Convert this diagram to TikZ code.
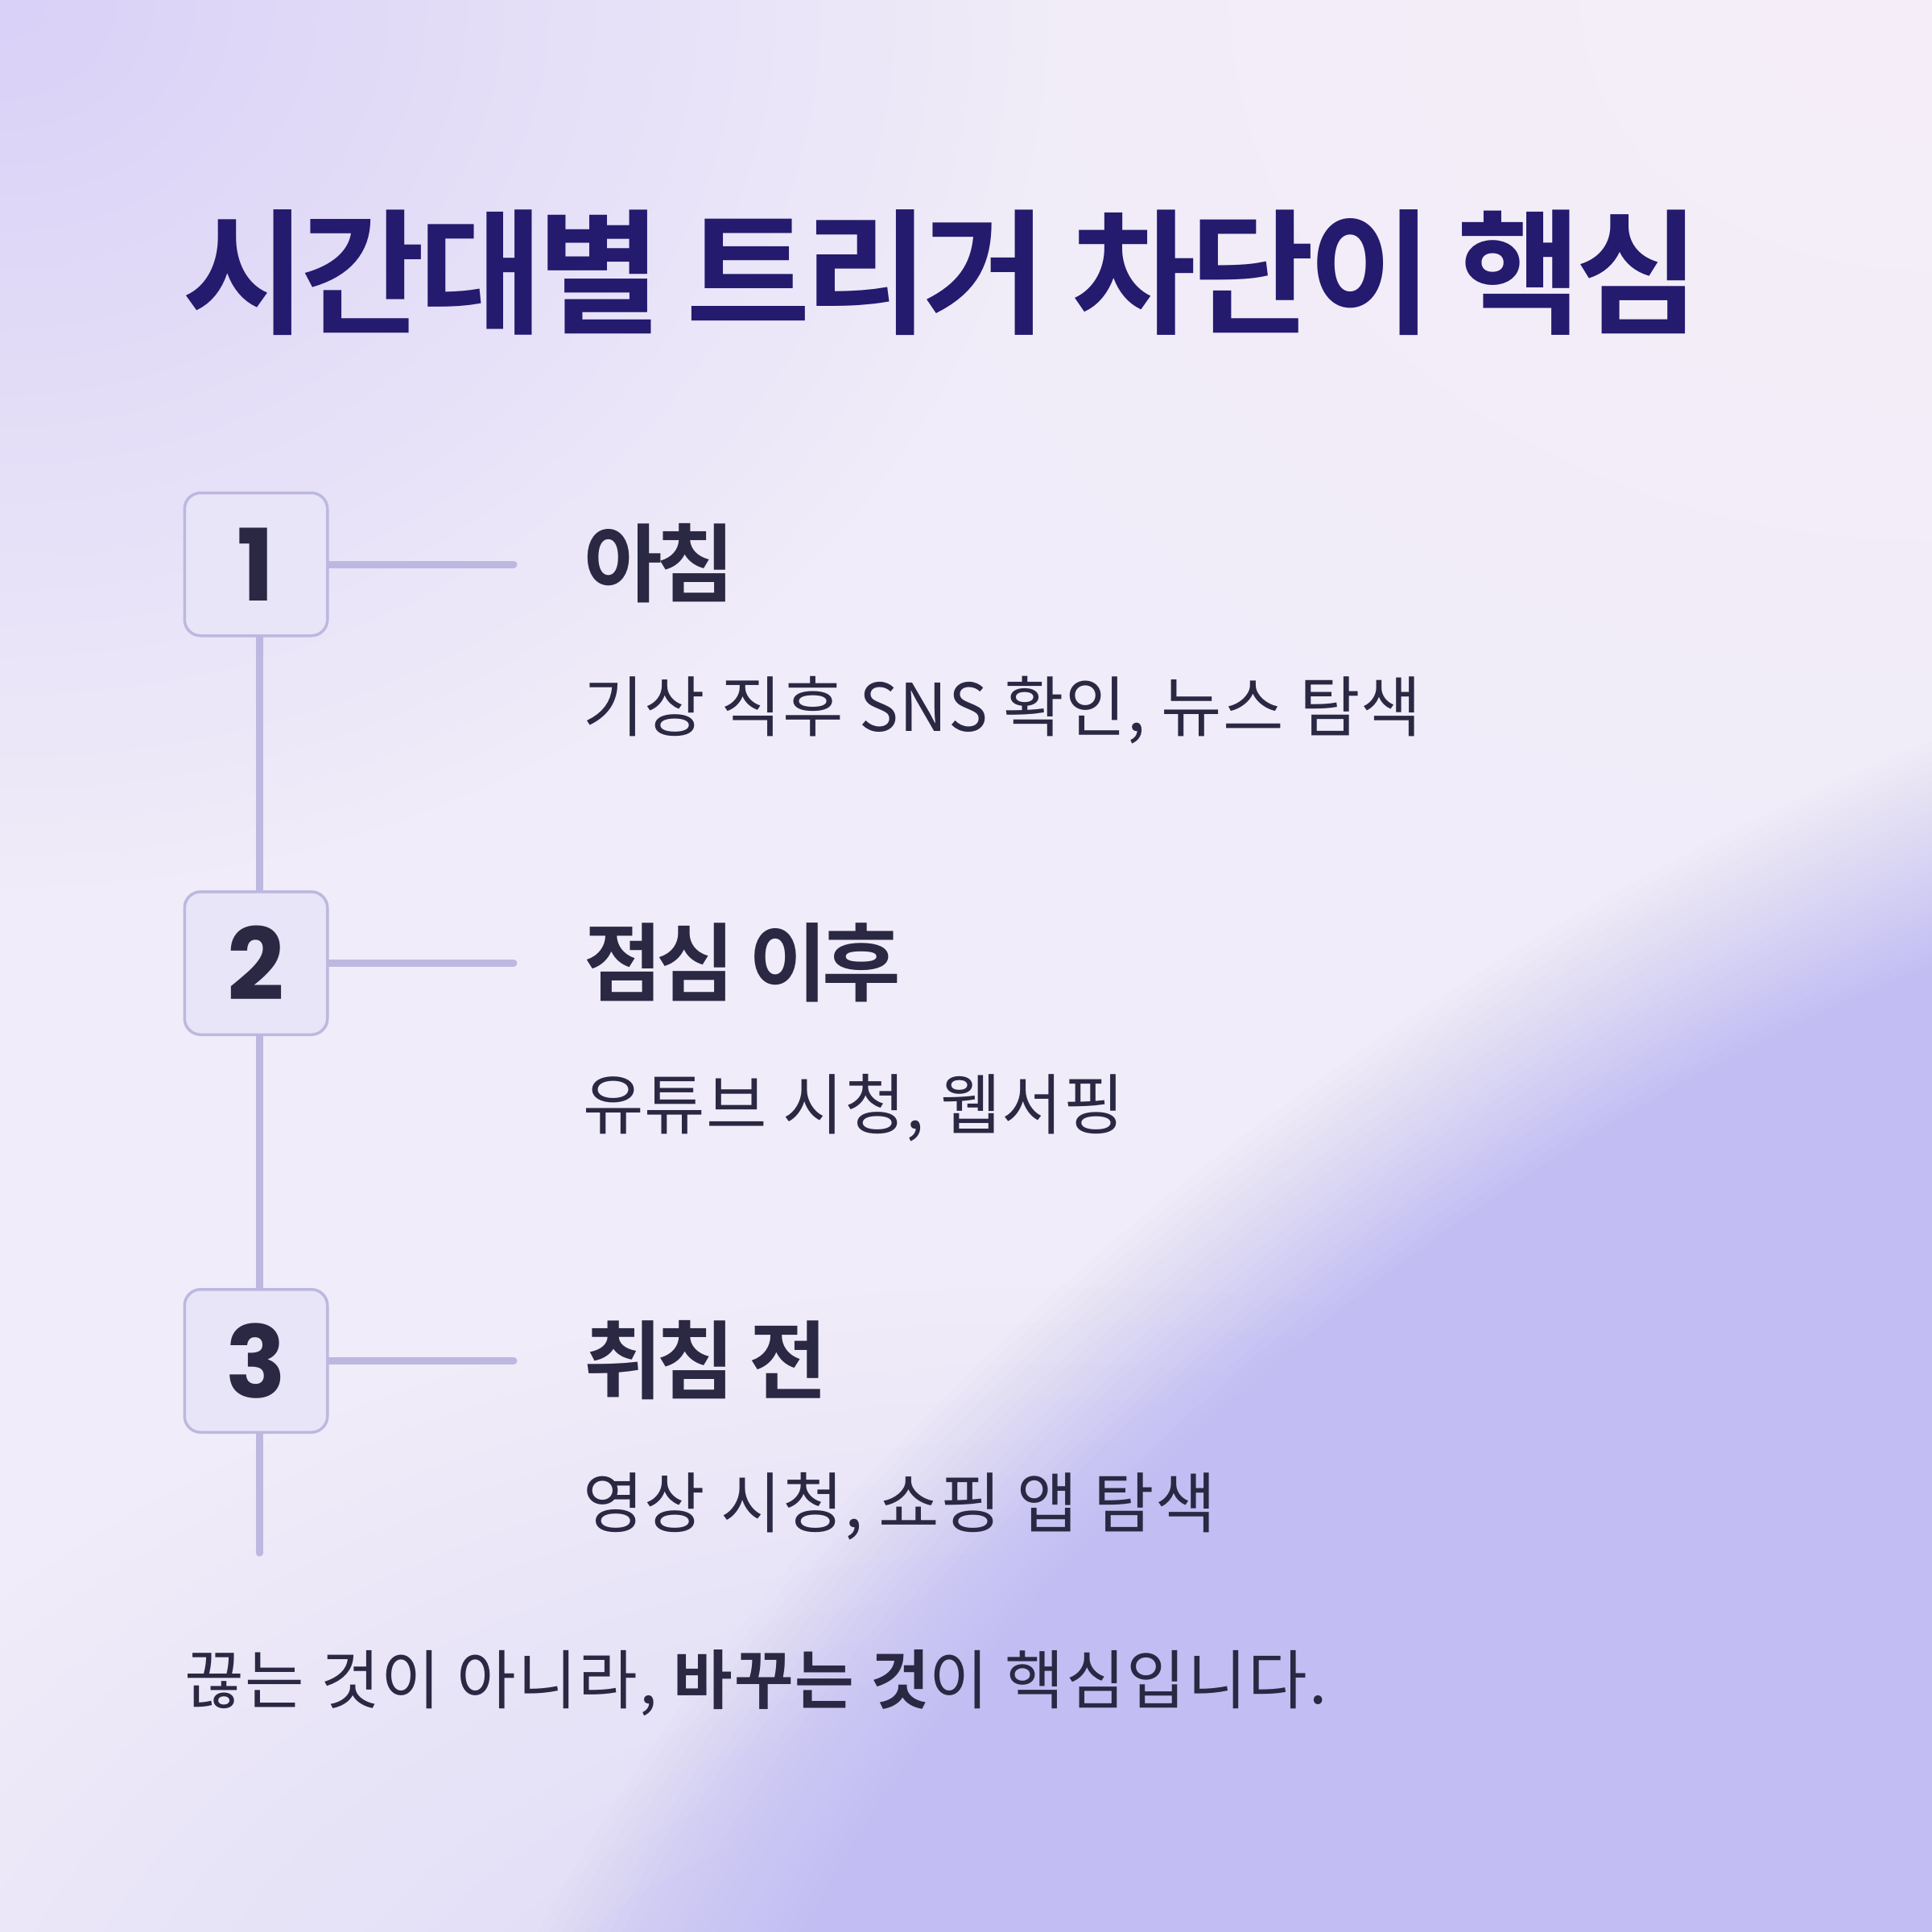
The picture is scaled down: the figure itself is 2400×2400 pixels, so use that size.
\documentclass[tikz,border=0pt]{standalone}
\usepackage{fontspec}
\usetikzlibrary{fadings}
\newfontfamily\krtitle{Noto Sans CJK KR Bold}[LetterSpace=-4.5]
\newfontfamily\krhead{Noto Sans CJK KR Bold}[LetterSpace=-6.5]
\newfontfamily\krtext{Noto Sans CJK KR}[LetterSpace=1.5]
\newfontfamily\krfoot{Noto Sans CJK KR}[LetterSpace=2.5]
\newfontfamily\krfootbf{Noto Sans CJK KR Bold}[LetterSpace=2.5]
\newfontfamily\numfont{Poppins Bold}
\definecolor{bgbase}{HTML}{F0ECF9}
\definecolor{bgtl}{HTML}{D9D1F7}
\definecolor{bgbr}{HTML}{C2BEF3}
\definecolor{bgpink}{HTML}{F6EFF8}
\definecolor{titlecol}{HTML}{241A6E}
\definecolor{txt}{HTML}{2A2842}
\definecolor{linecol}{HTML}{BDB8DF}
\definecolor{boxfill}{HTML}{E8E5F8}
\pgfdeclareradialshading{linsh}{\pgfpointorigin}{color(0bp)=(white); color(50bp)=(black)}
\pgfdeclarefading{linfade}{\pgfuseshading{linsh}}
\pgfdeclarelayer{bglayer}
\pgfdeclarelayer{linelayer}
\pgfsetlayers{bglayer,linelayer,main}
\tikzset{
  numbox/.style={draw=linecol, fill=boxfill, line width=3.5pt, rounded corners=20pt,
    minimum size=177.5pt, inner sep=0pt, text=txt, font=\fontsize{124}{124}\numfont},
  conn/.style={draw=linecol, line width=9pt, line cap=round},
  heading/.style={anchor=base west, inner sep=0pt, text=txt, font=\fontsize{106}{106}\krhead},
  subtext/.style={anchor=base west, inner sep=0pt, text=txt, font=\fontsize{82}{82}\krtext},
}
\begin{document}
\begin{tikzpicture}[x=1pt,y=-1pt]
\useasboundingbox (0,0) rectangle (2400,2400);
\begin{pgfonlayer}{bglayer}
  \fill[bgbase] (0,0) rectangle (2400,2400);
  \fill[bgpink, path fading=linfade, fit fading=false,
    fading transform={shift={(2400,0)}, xscale=1300/50, yscale=1000/50}] (0,0) rectangle (2400,2400);
  \fill[bgtl, path fading=linfade, fit fading=false,
    fading transform={shift={(0,0)}, xscale=1300/50, yscale=1100/50}] (0,0) rectangle (2400,2400);
  \fill[bgbr, fill opacity=0.5, path fading=linfade, fit fading=false,
    fading transform={shift={(1300,2700)}, xscale=1700/50, yscale=1100/50}] (0,0) rectangle (2400,2400);
  \clip (0,0) rectangle (2400,2400);
  \foreach \k in {1,...,24}{
    \pgfmathsetmacro\sc{1-0.2*(\k-1)/23}
    \pgfmathsetmacro\al{1/(25-\k)}
    \pgfmathsetmacro\rx{2200*\sc}
    \pgfmathsetmacro\ry{1271*\sc}
    \fill[bgbr, fill opacity=\al, rotate around={35:(2400,2360)}]
      (2400,2360) ellipse [x radius=\rx pt, y radius=\ry pt];
  }
\end{pgfonlayer}

\node[anchor=base west, inner sep=0pt, text=titlecol, font=\fontsize{168}{168}\krtitle] (title) at (226,401) {시간대별 트리거 차단이 핵심};

\node[numbox] (b1) at (318,701) {1};
\node[numbox] (b2) at (318,1196.5) {2};
\node[numbox] (b3) at (318,1690.5) {3};

\coordinate (vend) at (322,1929);
\coordinate (h1end) at (638,701);
\coordinate (h2end) at (638,1196.5);
\coordinate (h3end) at (638,1690.5);

\begin{pgfonlayer}{linelayer}
  \draw[conn] (vend |- b1.center) -- (vend);
  \draw[conn] (b1.east) -- (h1end);
  \draw[conn] (b2.east) -- (h2end);
  \draw[conn] (b3.east) -- (h3end);
\end{pgfonlayer}

\node[heading] (h1) at (725,739) {아침};
\node[subtext] (s1) at (724,908) {기상 직후 SNS 확인, 뉴스 탐색};
\node[heading] (h2) at (725,1235) {점심 이후};
\node[subtext] (s2) at (724,1402) {유튜브 시청, 웹서핑};
\node[heading] (h3) at (725,1729) {취침 전};
\node[subtext] (s3) at (724,1897) {영상 시청, 쇼핑 앱 탐색};

\node[anchor=base west, inner sep=0pt, text=txt, font=\fontsize{80}{80}\krfoot] (foot) at (229,2116) {끊는 것이 아니라, {\krfootbf 바꾸는 것}이 핵심입니다.};
\end{tikzpicture}
\end{document}
